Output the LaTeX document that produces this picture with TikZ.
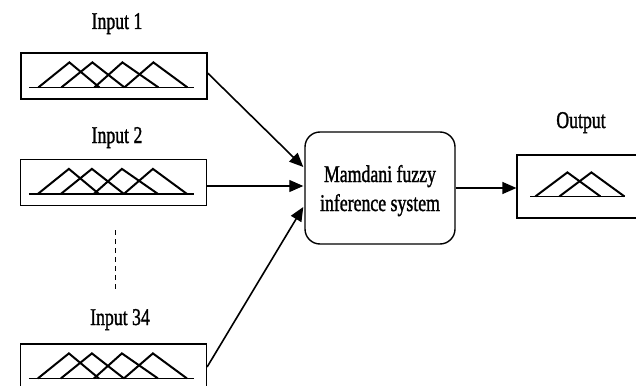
\documentclass[tikz,border=0pt]{standalone}
\usepackage{fontspec}
\setmainfont[FakeBold=1.6,AutoFakeBold=1.6]{Liberation Serif}
\usetikzlibrary{arrows.meta,calc}
\tikzset{
  box/.style={draw,line width=1.2pt,minimum width=186pt,minimum height=46pt,inner sep=0pt},
  sysbox/.style={draw,line width=1.4pt,rounded corners=15pt,minimum width=150pt,minimum height=112pt,inner sep=0pt},
  outbox/.style={draw,line width=1.2pt,minimum width=125pt,minimum height=63pt,inner sep=0pt},
  lbl/.style={anchor=base,inner sep=0pt,font=\fontsize{24}{28}\selectfont\bfseries},
  mfline/.style={line width=2pt,line join=miter},
  baseln/.style={line width=1.3pt},
  conn/.style={line width=1.6pt,-{Triangle[length=14pt,width=12pt]}},
}
\newcommand\sq[1]{\scalebox{0.74}[1]{#1}}
\newcommand\inmf[1]{%
  \begin{scope}[shift={(#1.north west)}]
    \draw[baseln] (9,35)--(174,35);
    \draw[mfline] (18,35)--(49,10)--(79,35);
    \draw[mfline] (41,35)--(72,10)--(104,35);
    \draw[mfline] (74,35)--(102,10)--(138,35);
    \draw[mfline] (104,35)--(133,10)--(167,35);
  \end{scope}}
\begin{document}
\begin{tikzpicture}[x=1pt,y=-1pt]
\clip (0,0) rectangle (636,385);
\fill[white] (0,0) rectangle (636,385);

% input boxes
\node[box] (in1) at (114,76) {};
\node[box] (in2) at (113.5,182.5) {};
\node[box] (in3) at (113.5,367) {};
\inmf{in1}
\inmf{in2}
\inmf{in3}

\node[lbl] (l1) at (117,29) {\sq{Input 1}};
\node[lbl] (l2) at (117,143) {\sq{Input 2}};
\node[lbl] (l3) at (120,325) {\sq{Input 34}};

% dots
\coordinate (d1) at (115,230);
\coordinate (d2) at (115,290);
\draw[line width=0.9pt,dash pattern=on 5pt off 4pt] (d1) -- (d2);

% system box
\node[sysbox] (mfis) at (380,188) {};
\node[lbl] (t1) at (380,182) {\sq{Mamdani fuzzy}};
\node[lbl] (t2) at (380,211) {\sq{inference system}};

% output box
\node[outbox] (out) at (579.5,186.5) {};
\node[lbl] (lo) at (581,128) {\sq{Output}};
\begin{scope}[shift={(out.north west)}]
  \draw[baseln] (14,42)--(109,42);
  \draw[mfline] (19,42)--(51,18)--(84,42);
  \draw[mfline] (43,42)--(75,18)--(108,42);
\end{scope}

% connectors
\coordinate (s1) at ($(in1.east)+(0,-3)$);
\coordinate (e1) at ($(mfis.west)+(-1,-21)$);
\coordinate (e2) at ($(mfis.west)+(-1,-2)$);
\coordinate (s2) at (in2.east |- e2);
\coordinate (e3) at ($(mfis.west)+(-1,19)$);
\coordinate (eo) at (out.west |- mfis.east);
\draw[conn] (s1) -- (e1);
\draw[conn,line width=1.2pt] (s2) -- (e2);
\draw[conn] (in3.east) -- (e3);
\draw[conn,line width=1.2pt] (mfis.east) -- (eo);
\end{tikzpicture}
\end{document}
